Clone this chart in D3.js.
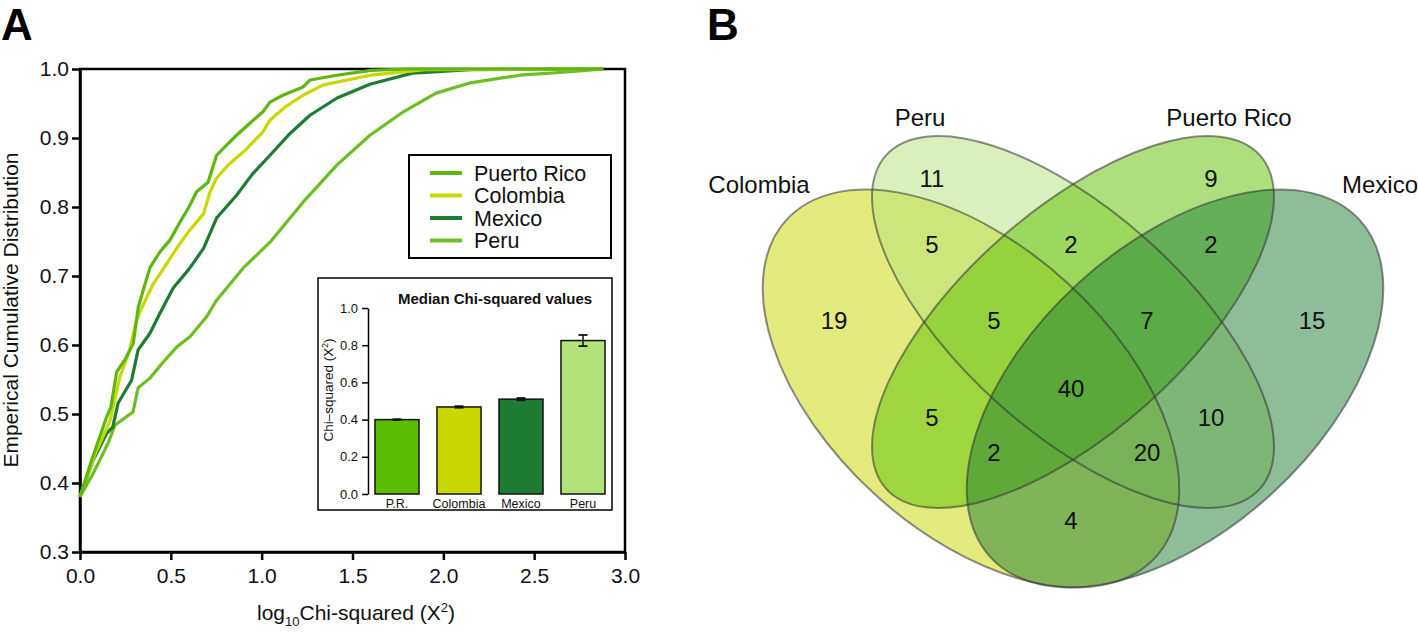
<!DOCTYPE html>
<html><head><meta charset="utf-8">
<script src="https://cdn.jsdelivr.net/npm/d3@7"></script>
<style>
body{margin:0;background:#fff;}
svg{display:block;font-family:"Liberation Sans",Arial,Helvetica,sans-serif;}
</style>
</head><body>
<svg id="chart" width="1418" height="632"></svg>
<script>
// ---------------- DATA ----------------
const seriesNames = ["Puerto Rico", "Colombia", "Mexico", "Peru"];
const seriesColors = ["#5cb810", "#c8d800", "#1c7d31", "#6cbf22"];

const prX = [0, 0.06, 0.147, 0.17, 0.202, 0.25, 0.293, 0.321, 0.36, 0.385, 0.44, 0.495, 0.55, 0.6, 0.642, 0.705, 0.752, 0.8, 0.862, 0.95, 1.007, 1.046, 1.117, 1.228, 1.266, 1.415, 1.6, 1.8, 2.88];
const prY = [0.38, 0.43, 0.496, 0.51, 0.561, 0.58, 0.602, 0.655, 0.69, 0.712, 0.735, 0.752, 0.778, 0.80, 0.822, 0.836, 0.875, 0.888, 0.904, 0.925, 0.938, 0.952, 0.962, 0.974, 0.984, 0.991, 0.998, 1.0, 1.0];

const colX = [0, 0.08, 0.165, 0.22, 0.27, 0.312, 0.34, 0.40, 0.47, 0.532, 0.6, 0.68, 0.716, 0.752, 0.82, 0.9, 1.007, 1.046, 1.13, 1.228, 1.34, 1.6, 1.9, 2.88];
const colY = [0.38, 0.44, 0.49, 0.554, 0.59, 0.636, 0.654, 0.687, 0.715, 0.74, 0.765, 0.79, 0.822, 0.842, 0.862, 0.88, 0.909, 0.926, 0.945, 0.962, 0.977, 0.991, 0.999, 1.0];

const mexX = [0, 0.072, 0.147, 0.18, 0.21, 0.284, 0.32, 0.385, 0.44, 0.514, 0.6, 0.68, 0.752, 0.862, 0.95, 1.046, 1.15, 1.266, 1.415, 1.596, 1.83, 2.15, 2.88];
const mexY = [0.38, 0.433, 0.472, 0.481, 0.516, 0.549, 0.593, 0.617, 0.646, 0.683, 0.71, 0.74, 0.784, 0.817, 0.848, 0.875, 0.905, 0.933, 0.958, 0.978, 0.994, 0.999, 1.0];

const peruX = [0, 0.073, 0.155, 0.193, 0.292, 0.32, 0.385, 0.457, 0.532, 0.605, 0.697, 0.752, 0.9, 1.046, 1.228, 1.415, 1.596, 1.78, 1.96, 2.15, 2.42, 2.7, 2.88];
const peruY = [0.38, 0.414, 0.458, 0.484, 0.503, 0.538, 0.552, 0.575, 0.597, 0.612, 0.641, 0.665, 0.712, 0.749, 0.807, 0.861, 0.904, 0.938, 0.965, 0.98, 0.991, 0.996, 1.0];

const xTicks = [0, 0.5, 1.0, 1.5, 2.0, 2.5, 3.0];
const yTicks = [0.3, 0.4, 0.5, 0.6, 0.7, 0.8, 0.9, 1.0];

const medianCats = ["P.R.", "Colombia", "Mexico", "Peru"];
const medianValues = [0.400, 0.468, 0.510, 0.825];
const medianErrors = [0.002, 0.004, 0.006, 0.030];
const barColors = ["#5bbd00", "#c9d900", "#1e7b32", "#b4e27a"];
const insetTicks = [0.0, 0.2, 0.4, 0.6, 0.8, 1.0];

const vennSets = ["Colombia", "Peru", "Puerto Rico", "Mexico"];
const vennFill = ["#c8d800", "#b5e27a", "#5cbf00", "#1e7e34"];
// region membership (C=Colombia, P=Peru, R=Puerto Rico, M=Mexico) and counts
const vennRegions = ["P", "R", "CP", "PR", "RM", "C", "CPR", "PRM", "M", "CPRM", "CR", "PM", "CRM", "CPM", "CM"];
const vennCounts  = [11, 9, 5, 2, 2, 19, 5, 7, 15, 40, 5, 10, 2, 20, 4];

// ---------------- LAYOUT ----------------
const svg = d3.select("#chart");
const fontA = 21;

// Panel letters
svg.append("text").attr("x", 1).attr("y", 40).attr("font-size", 44).attr("font-weight", "bold").text("A");
svg.append("text").attr("x", 707).attr("y", 40).attr("font-size", 44).attr("font-weight", "bold").text("B");

// ---- Panel A ----
const x = d3.scaleLinear().domain([0, 3]).range([80, 625]);
const y = d3.scaleLinear().domain([0.3, 1.0]).range([552, 69]);

const gA = svg.append("g");
gA.append("rect").attr("x", x(0)).attr("y", y(1)).attr("width", x(3) - x(0)).attr("height", y(0.3) - y(1))
  .attr("fill", "none").attr("stroke", "#000").attr("stroke-width", 2.5);

const yAxis = gA.append("g").attr("transform", `translate(${x(0)},0)`)
  .call(d3.axisLeft(y).tickValues(yTicks).tickFormat(d3.format(".1f")).tickSize(8).tickSizeOuter(0).tickPadding(3));
const xAxis = gA.append("g").attr("transform", `translate(0,${y(0.3)})`)
  .call(d3.axisBottom(x).tickValues(xTicks).tickFormat(d3.format(".1f")).tickSize(8).tickSizeOuter(0).tickPadding(8));
[yAxis, xAxis].forEach(ax => {
  ax.select(".domain").attr("stroke-width", 2.5);
  ax.selectAll(".tick line").attr("stroke-width", 2.5);
  ax.selectAll(".tick text").attr("font-size", fontA).attr("font-family", "Liberation Sans, Arial, sans-serif").attr("fill", "#111");
});

gA.append("text").attr("transform", "translate(18,310) rotate(-90)").attr("text-anchor", "middle")
  .attr("font-size", fontA).attr("fill", "#111").text("Emperical Cumulative Distribution");
const xt = gA.append("text").attr("x", 356).attr("y", 620).attr("text-anchor", "middle").attr("font-size", fontA).attr("fill", "#111");
xt.append("tspan").text("log");
xt.append("tspan").attr("font-size", 13).attr("dy", 6).text("10");
xt.append("tspan").attr("dy", -6).text("Chi-squared (X");
xt.append("tspan").attr("font-size", 13).attr("dy", -8).text("2");
xt.append("tspan").attr("dy", 8).text(")");

const seriesX = [prX, colX, mexX, peruX];
const seriesY = [prY, colY, mexY, peruY];
const line = d3.line().x(d => x(d[0])).y(d => y(d[1]));
[3, 2, 1, 0].forEach(i => {
  const pts = seriesX[i].map((v, k) => [v, seriesY[i][k]]);
  gA.append("path").attr("d", line(pts)).attr("fill", "none")
    .attr("stroke", seriesColors[i]).attr("stroke-width", 3.2).attr("stroke-linejoin", "round");
});

// legend
const lg = gA.append("g");
lg.append("rect").attr("x", 409).attr("y", 155).attr("width", 202).attr("height", 103)
  .attr("fill", "#fff").attr("stroke", "#000").attr("stroke-width", 2);
seriesNames.forEach((n, i) => {
  const yy = 173 + i * 22.5;
  lg.append("line").attr("x1", 430).attr("x2", 462).attr("y1", yy).attr("y2", yy)
    .attr("stroke", seriesColors[i]).attr("stroke-width", 4);
  lg.append("text").attr("x", 474).attr("y", yy).attr("dy", "0.36em").attr("font-size", 21.5).attr("fill", "#111").text(n);
});

// inset
const gi = gA.append("g");
gi.append("rect").attr("x", 318).attr("y", 278).attr("width", 294).attr("height", 232)
  .attr("fill", "#fff").attr("stroke", "#000").attr("stroke-width", 1.5);
const yi = d3.scaleLinear().domain([0, 1]).range([494, 308]);
const xi = d3.scaleBand().domain(medianCats).range([366, 614]).paddingInner(0.29).paddingOuter(0.145);
const iax = gi.append("g").attr("transform", "translate(368,0)")
  .call(d3.axisLeft(yi).tickValues(insetTicks).tickFormat(d3.format(".1f")).tickSize(6).tickSizeOuter(0).tickPadding(4));
iax.select(".domain").attr("stroke-width", 1.5);
iax.selectAll(".tick line").attr("stroke-width", 1.5);
iax.selectAll(".tick text").attr("font-size", 13).attr("font-family", "Liberation Sans, Arial, sans-serif").attr("fill", "#111");

gi.selectAll("rect.bar").data(medianCats).enter().append("rect").attr("class", "bar")
  .attr("x", d => xi(d)).attr("width", xi.bandwidth())
  .attr("y", (d, i) => yi(medianValues[i])).attr("height", (d, i) => yi(0) - yi(medianValues[i]))
  .attr("fill", (d, i) => barColors[i]).attr("stroke", "#111").attr("stroke-width", 1.5);
medianCats.forEach((c, i) => {
  const cx = xi(c) + xi.bandwidth() / 2;
  const top = yi(medianValues[i] + medianErrors[i]), bot = yi(medianValues[i] - medianErrors[i]);
  gi.append("line").attr("x1", cx).attr("x2", cx).attr("y1", top).attr("y2", bot).attr("stroke", "#111").attr("stroke-width", 1.5);
  [top, bot].forEach(v => gi.append("line").attr("x1", cx - 4.5).attr("x2", cx + 4.5).attr("y1", v).attr("y2", v)
    .attr("stroke", "#111").attr("stroke-width", 1.8));
  gi.append("text").attr("x", cx).attr("y", 503).attr("dy", "0.36em").attr("text-anchor", "middle")
    .attr("font-size", 12.5).attr("fill", "#111").text(c);
});
gi.append("text").attr("x", 495).attr("y", 299).attr("dy", "0.36em").attr("text-anchor", "middle")
  .attr("font-size", 15).attr("font-weight", "bold").attr("fill", "#111").text("Median Chi-squared values");
const il = gi.append("text").attr("transform", "translate(333,390) rotate(-90)").attr("text-anchor", "middle")
  .attr("font-size", 13.5).attr("fill", "#111");
il.append("tspan").text("Chi\u2013squared (X");
il.append("tspan").attr("font-size", 8.5).attr("dy", -5).text("2");
il.append("tspan").attr("dy", 5).text(")");

// ---- Panel B: Venn ----
const cX = 1073;
const ellipses = [
  {cx: 971,  cy: 388.5, rx: 250, ry: 143, rot: 42.4},
  {cx: cX,   cy: 322,   rx: 250.5, ry: 110.6, rot: 41.7},
  {cx: cX,   cy: 322,   rx: 250.5, ry: 110.6, rot: -41.7},
  {cx: 1175, cy: 388.5, rx: 250, ry: 143, rot: -42.4}
];
const gB = svg.append("g");
ellipses.forEach((e, i) => {
  gB.append("ellipse").attr("cx", e.cx).attr("cy", e.cy).attr("rx", e.rx).attr("ry", e.ry)
    .attr("transform", `rotate(${e.rot},${e.cx},${e.cy})`)
    .attr("fill", vennFill[i]).attr("fill-opacity", 0.5).attr("stroke", "none");
});
ellipses.forEach((e, i) => {
  gB.append("ellipse").attr("cx", e.cx).attr("cy", e.cy).attr("rx", e.rx).attr("ry", e.ry)
    .attr("transform", `rotate(${e.rot},${e.cx},${e.cy})`)
    .attr("fill", "none").attr("stroke", "#333").attr("stroke-opacity", 0.55).attr("stroke-width", 2);
});
const setLabelPos = [[759, 184], [920, 117], [1229, 117], [1380, 184]];
vennSets.forEach((s, i) => {
  gB.append("text").attr("x", setLabelPos[i][0]).attr("y", setLabelPos[i][1]).attr("dy", "0.36em")
    .attr("text-anchor", "middle").attr("font-size", 24).attr("fill", "#111").text(s);
});
const regionPos = {
  P: [932, 178], R: [1211, 178], CP: [932, 244], PR: [1071, 244], RM: [1211, 244],
  C: [834, 320], CPR: [994, 320], PRM: [1147, 320], M: [1312, 320], CPRM: [1071, 388],
  CR: [932, 417], PM: [1211, 417], CRM: [994, 452], CPM: [1147, 452], CM: [1071, 520]
};
vennRegions.forEach((r, i) => {
  gB.append("text").attr("x", regionPos[r][0]).attr("y", regionPos[r][1]).attr("dy", "0.36em")
    .attr("text-anchor", "middle").attr("font-size", 24).attr("fill", "#111").text(vennCounts[i]);
});
</script>
</body></html>
